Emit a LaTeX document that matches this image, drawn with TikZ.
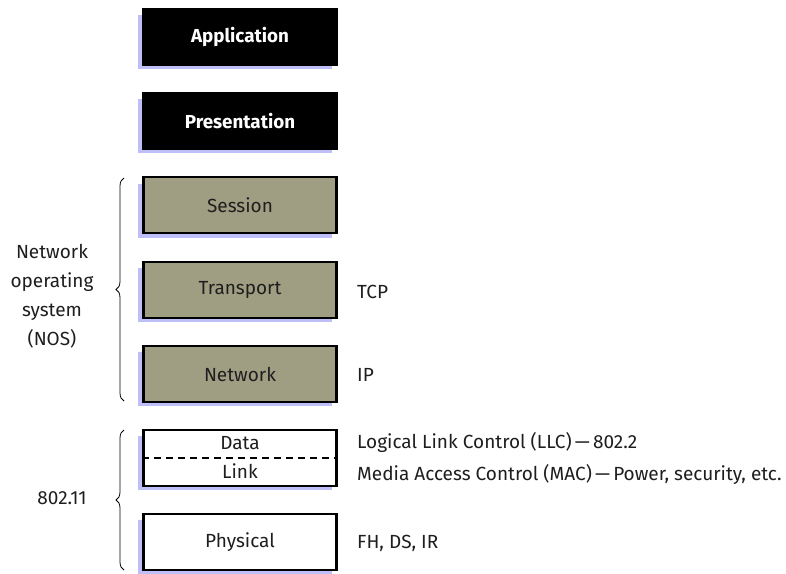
\documentclass[tikz,border=0pt]{standalone}
\usepackage{fontspec}
\setmainfont{Fira Sans}
\usetikzlibrary{decorations.pathreplacing}
\definecolor{olive}{RGB}{160,158,130}
\definecolor{shade}{RGB}{190,190,248}
\definecolor{ink}{RGB}{30,30,30}
\begin{document}
\begin{tikzpicture}[x=1pt,y=-1pt,
  txt/.style={font=\fontsize{19}{21}\selectfont,text=ink},
  layer/.style={draw=black,line width=2.2pt,minimum width=193pt,minimum height=56pt,inner sep=0pt,txt},
  darklayer/.style={layer,fill=black,text=white,font=\fontsize{18.8}{21}\selectfont\bfseries},
  olivelayer/.style={layer,fill=olive},
  whitelayer/.style={layer,fill=white},
  shadowbox/.style={fill=shade},
  lbl/.style={anchor=west,txt,inner sep=0pt},
  brc/.style={draw=black,line width=0.8pt,decorate,decoration={brace,amplitude=8pt,mirror}}]
\useasboundingbox (0,0) rectangle (786,573);
% shadows
\foreach \y in {37,121,206,290,374,458,542}{
  \fill[shadowbox] (138,\y-22) rectangle (332,\y+32);
}
\node[darklayer] (app) at (240,37) {Application};
\node[darklayer] (pres) at (240,121) {Presentation};
\node[olivelayer] (sess) at (240,205) {Session};
\node[olivelayer] (trans) at (240,290) {Transport};
\node[olivelayer] (net) at (240,374) {Network};
\node[whitelayer] (dl) at (240,458) {};
\node[whitelayer] (phys) at (240,542) {Physical};
\node[txt,inner sep=0pt] (data) at (240,443) {Data};
\node[txt,inner sep=0pt] (link) at (240,471) {Link};
\draw[line width=2.2pt,dash pattern=on 7pt off 5pt] (dl.west) -- (dl.east);
% right labels
\node[lbl] (tcp) at (357,292) {TCP};
\node[lbl] (ip) at (357,375) {IP};
\node[lbl] (llc) at (357,442) {Logical Link Control (LLC)\,—\,802.2};
\node[lbl] (mac) at (357,474) {Media Access Control (MAC)\,—\,Power, security, etc.};
\node[lbl] (fh) at (357,543) {FH, DS, IR};
% braces
\coordinate (b1t) at (124,178);
\coordinate (b1b) at (124,401);
\draw[brc] (b1t) -- (b1b);
\node[font=\fontsize{19}{29}\selectfont,text=ink,align=center,inner sep=0pt] (nos) at (52,296) {Network\\operating\\system\\(NOS)};
\coordinate (b2t) at (124,430);
\coordinate (b2b) at (124,570);
\draw[brc] (b2t) -- (b2b);
\node[txt,inner sep=0pt] (ieee) at (62,498) {802.11};
\end{tikzpicture}
\end{document}
